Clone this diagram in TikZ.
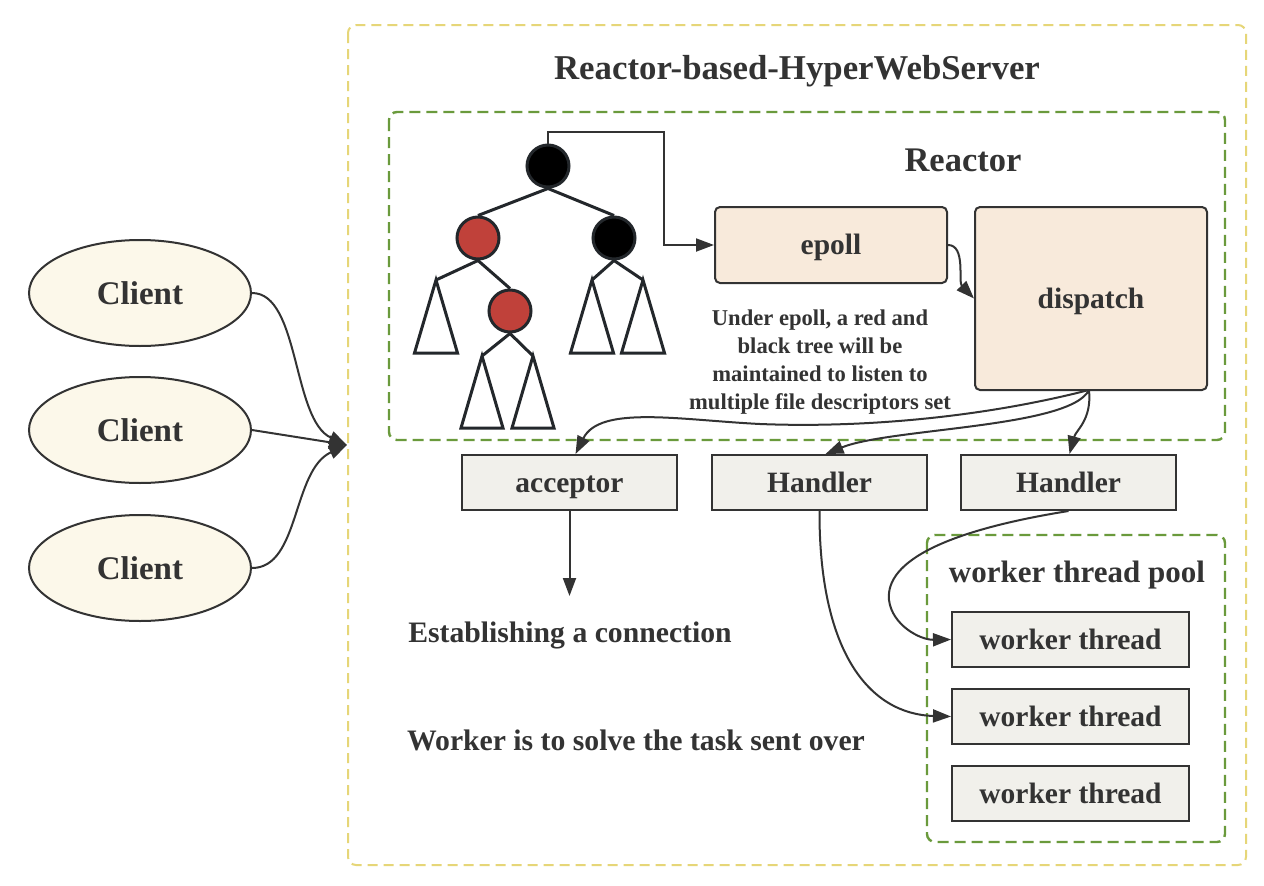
\documentclass[tikz,border=0pt]{standalone}
\usepackage{fontspec}
\setmainfont{Liberation Serif}
\usetikzlibrary{arrows.meta,shapes.geometric}
\definecolor{ink}{HTML}{333333}
\definecolor{yel}{HTML}{E6D678}
\definecolor{grn}{HTML}{6A9A3C}
\definecolor{rednode}{HTML}{C0413A}
\definecolor{clientfill}{HTML}{FCF8EA}
\definecolor{peach}{HTML}{F8EADB}
\definecolor{greybox}{HTML}{F1F0EB}
\definecolor{treeline}{HTML}{23272B}
\tikzset{
  fs/.style={font=\bfseries\fontsize{#1}{#1}\selectfont},
  arr/.style={draw=ink, line width=2pt, -{Triangle[length=18pt,width=13pt]}},
  conn/.style={draw=ink, line width=2pt},
  outerbox/.style={draw=yel, line width=2pt, dash pattern=on 10pt off 6pt, rounded corners=8pt},
  groupbox/.style={draw=grn, line width=2.4pt, dash pattern=on 11pt off 6pt, rounded corners=8pt},
  peachbox/.style={draw=ink, line width=2pt, fill=peach, rounded corners=5pt, inner sep=0pt,
     fs=29.5, text=ink, text height=19.5pt, text depth=0pt},
  greyb/.style={draw=ink, line width=2pt, fill=greybox, inner sep=0pt, minimum height=55pt,
     fs=29.5, text=ink, text height=19.5pt, text depth=0pt},
  client/.style={ellipse, draw=ink, line width=2pt, fill=clientfill, minimum width=222pt,
     minimum height=106pt, inner sep=0pt, fs=33, text=ink, text height=22pt, text depth=0pt},
  rbn/.style={circle, draw=treeline, line width=3pt, inner sep=0pt, minimum size=42pt},
  tline/.style={draw=treeline, line width=3pt},
  lbl/.style={text=ink, inner sep=0pt, anchor=base},
}
\begin{document}
\begin{tikzpicture}[x=1pt,y=-1pt]
\useasboundingbox (0,0) rectangle (1264,886);
\fill[white] (0,0) rectangle (1264,886);

% containers
\draw[outerbox] (348,25) rectangle (1246,865);
\draw[groupbox] (389,112) rectangle (1225,440);
\draw[groupbox] (927,535) rectangle (1225,842);

% titles
\node[lbl, fs=34.8] (title) at (797,79) {Reactor-based-HyperWebServer};
\node[lbl, fs=34.5] (reactor) at (963,171) {Reactor};
\node[lbl, fs=31] (pool) at (1077,582) {worker thread pool};

% red-black tree
\node[rbn, fill=black] (root) at (548,166) {};
\node[rbn, fill=rednode] (lred) at (478,238) {};
\node[rbn, fill=black] (rblk) at (614,238) {};
\node[rbn, fill=rednode] (cred) at (510,311) {};
\coordinate (a1) at (436,280);
\coordinate (a2) at (592,280);
\coordinate (a3) at (643,280);
\coordinate (a4) at (482,356);
\coordinate (a5) at (533,356);
\draw[tline] (root.south) -- (lred.north);
\draw[tline] (root.south) -- (rblk.north);
\draw[tline] (lred.south) -- (a1);
\draw[tline] (lred.south) -- (cred.north);
\draw[tline] (rblk.south) -- (a2);
\draw[tline] (rblk.south) -- (a3);
\draw[tline] (cred.south) -- (a4);
\draw[tline] (cred.south) -- (a5);
\foreach \p in {a1,a2,a3} {
  \draw[tline, fill=white, line join=miter] (\p) -- ++(-21.5,73) -- ++(43,0) -- cycle;
}
\foreach \p in {a4,a5} {
  \draw[tline, fill=white, line join=miter] (\p) -- ++(-21,72) -- ++(42,0) -- cycle;
}

% reactor boxes
\node[peachbox, minimum width=232pt, minimum height=76pt] (epoll) at (831,245) {epoll};
\node[peachbox, minimum width=232pt, minimum height=183pt] (dispatch) at (1091,298.5) {dispatch};

\node[text=ink, font=\bfseries\fontsize{22.6}{28}\selectfont, align=center, inner sep=0pt, anchor=base] (note) at (820,409)
  {Under epoll, a red and\\ black tree will be\\ maintained to listen to\\ multiple file descriptors set};

% handlers
\node[greyb, minimum width=215pt] (acceptor) at (569.5,482.5) {acceptor};
\node[greyb, minimum width=215pt] (h1) at (819.5,482.5) {Handler};
\node[greyb, minimum width=215pt] (h2) at (1068.5,482.5) {Handler};

% workers
\node[greyb, minimum width=237pt] (w1) at (1070.5,639.5) {worker thread};
\node[greyb, minimum width=237pt] (w2) at (1070.5,716.5) {worker thread};
\node[greyb, minimum width=237pt] (w3) at (1070.5,793.5) {worker thread};

% free texts
\node[lbl, fs=29.7] (estab) at (570,642) {Establishing a connection};
\node[lbl, fs=29.7] (solve) at (636,750) {Worker is to solve the task sent over};

% clients
\node[client] (c1) at (140,293) {Client};
\node[client] (c2) at (140,430) {Client};
\node[client] (c3) at (140,568) {Client};
\coordinate (srvin) at (347,445);

% connectors
\draw[arr] (c1.east) .. controls (300,293) and (292,420) .. (srvin);
\draw[arr] (c2.east) -- (srvin);
\draw[arr] (c3.east) .. controls (300,568) and (292,470) .. (srvin);

\draw[arr] (root.north) -- (548,132) -- (664,132) |- (epoll.west);
\draw[arr] (epoll.east) .. controls (966,245) and (958,282) .. (dispatch.west);

\coordinate (dsp) at (1089,390);
\draw[arr] (dsp) .. controls (980,418) and (860,428) .. (760,424) .. controls (680,420) and (600,405) .. ([xshift=6pt]acceptor.north);
\draw[arr] (dsp) .. controls (1070,428) and (890,428) .. ([xshift=6pt]h1.north);
\draw[arr] (dsp) .. controls (1092,420) and (1076,430) .. ([xshift=1pt]h2.north);

\coordinate (estabend) at (569.5,596);
\draw[arr] (acceptor.south) -- (estabend);

\draw[arr] (h2.south) .. controls (950,530) and (885,560) .. (889,600) .. controls (892,625) and (920,640) .. (w1.west);
\draw[arr] (h1.south) .. controls (819,650) and (868,714) .. (w2.west);
\end{tikzpicture}
\end{document}
